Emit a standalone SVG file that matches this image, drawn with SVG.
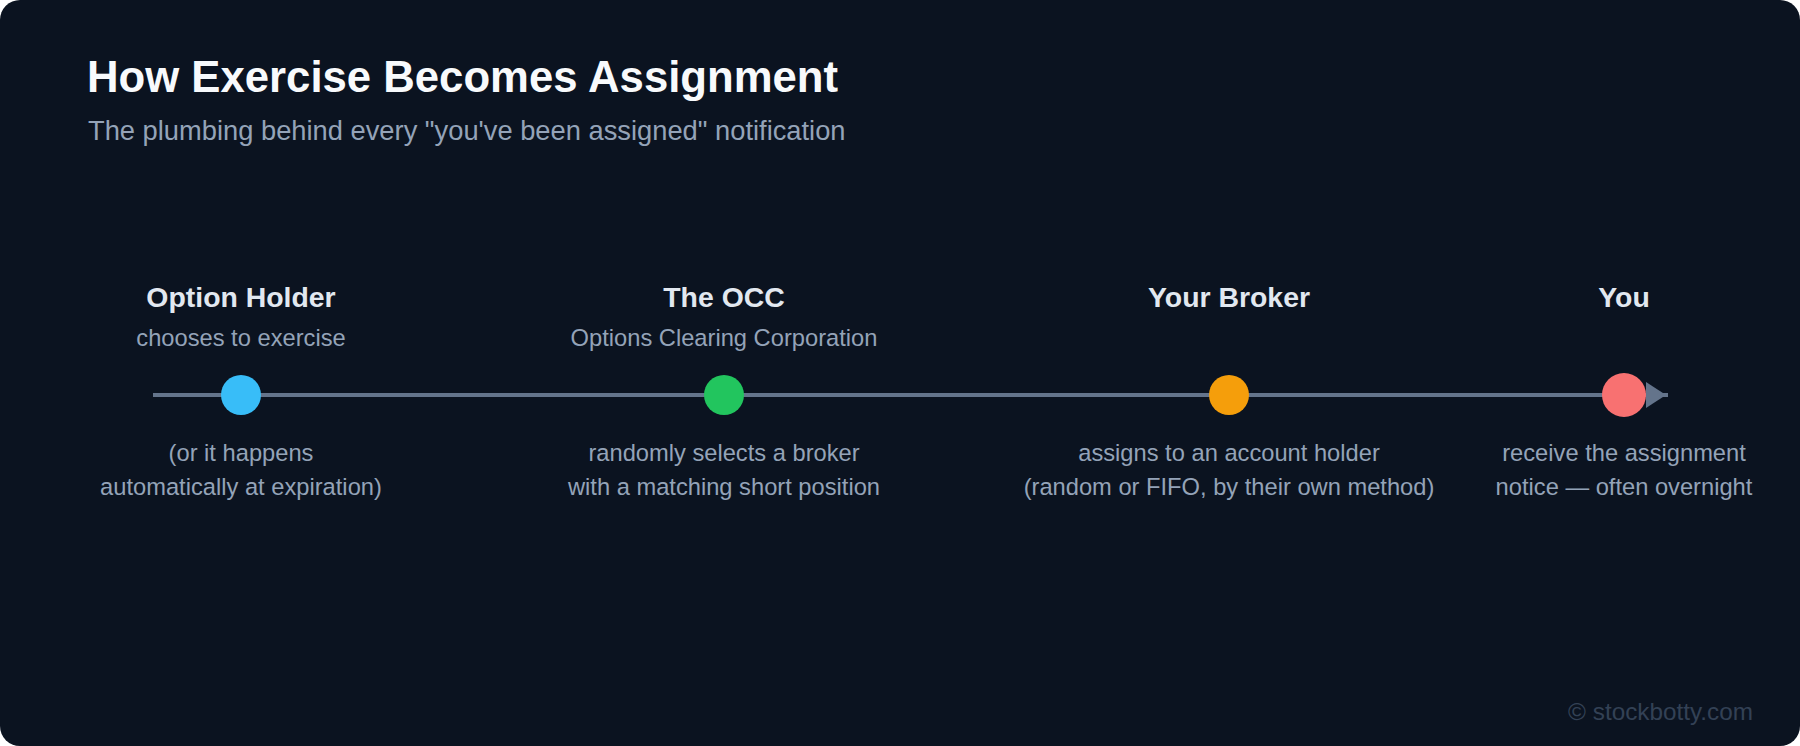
<svg xmlns="http://www.w3.org/2000/svg" width="1800" height="746" viewBox="0 0 1800 746">
<style>
text{font-family:"Liberation Sans",Arial,sans-serif}
.title{font-size:43.7px;font-weight:bold;fill:#f8fafc}
.subtitle{font-size:27.3px;fill:#94a3b8}
.lbl{font-size:28.4px;font-weight:bold;fill:#e2e8f0;text-anchor:middle}
.sub{font-size:23.7px;fill:#94a3b8;text-anchor:middle}
.note{font-size:23.7px;fill:#94a3b8;text-anchor:middle}
.copy{font-size:24.3px;fill:#334155;text-anchor:end}
</style>
<rect width="1800" height="746" fill="#ffffff"/>
<rect width="1800" height="746" rx="20" fill="#0b1320"/>
<text class="title" x="87" y="92">How Exercise Becomes Assignment</text>
<text class="subtitle" x="88" y="140">The plumbing behind every "you've been assigned" notification</text>
<g id="connectors">
<line x1="153" y1="395" x2="1668" y2="395" stroke="#64748b" stroke-width="4"/>
<polygon points="1646,382 1666,395 1646,408" fill="#64748b"/>
</g>
<g id="node-holder">
<text class="lbl" x="241" y="307">Option Holder</text>
<text class="sub" x="241" y="346">chooses to exercise</text>
<circle cx="241" cy="395" r="20" fill="#38bdf8"/>
<text class="note" x="241" y="461">(or it happens</text>
<text class="note" x="241" y="495">automatically at expiration)</text>
</g>
<g id="node-occ">
<text class="lbl" x="724" y="307">The OCC</text>
<text class="sub" x="724" y="346">Options Clearing Corporation</text>
<circle cx="724" cy="395" r="20" fill="#22c55e"/>
<text class="note" x="724" y="461">randomly selects a broker</text>
<text class="note" x="724" y="495">with a matching short position</text>
</g>
<g id="node-broker">
<text class="lbl" x="1229" y="307">Your Broker</text>
<circle cx="1229" cy="395" r="20" fill="#f59e0b"/>
<text class="note" x="1229" y="461">assigns to an account holder</text>
<text class="note" x="1229" y="495">(random or FIFO, by their own method)</text>
</g>
<g id="node-you">
<text class="lbl" x="1624" y="307">You</text>
<circle cx="1624" cy="395" r="22" fill="#f87171"/>
<text class="note" x="1624" y="461">receive the assignment</text>
<text class="note" x="1624" y="495">notice — often overnight</text>
</g>
<text class="copy" x="1753" y="720">© stockbotty.com</text>
</svg>
